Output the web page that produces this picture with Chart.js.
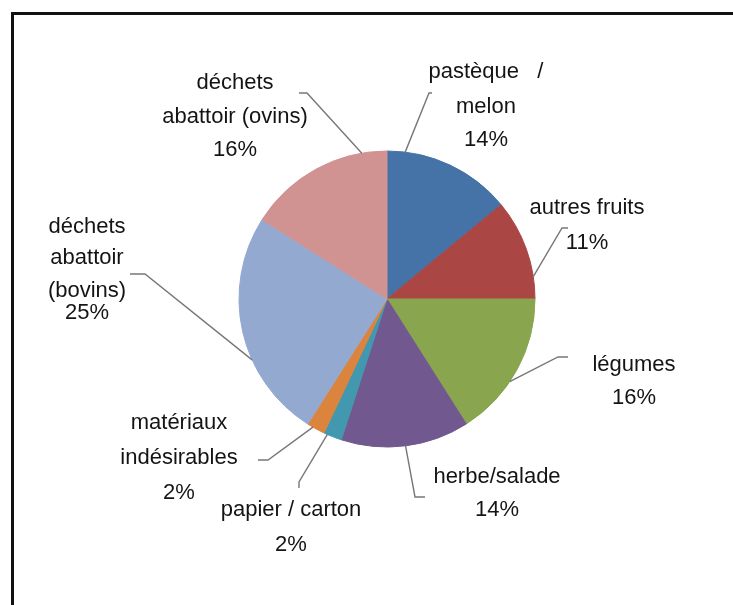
<!DOCTYPE html>
<html lang="fr">
<head>
  <meta charset="UTF-8">
  <title>Composition des déchets</title>
  <script src="https://cdn.jsdelivr.net/npm/chart.js"></script>
  <style>
    html, body {
      margin: 0;
      padding: 0;
      width: 733px;
      height: 605px;
      overflow: hidden;
      background: #fff;
    }
    #frame {
      position: absolute;
      left: 11px;
      top: 12px;
      width: 800px;
      height: 700px;
      border-left: 3px solid #111;
      border-top: 3px solid #111;
    }
    #wrap {
      position: absolute;
      left: 0;
      top: 0;
      width: 733px;
      height: 605px;
    }
  </style>
</head>
<body>
  <div id="frame"></div>
  <div id="wrap"><canvas id="pie"></canvas></div>

<script>
// data (percent of total)
const categories = [
  'pastèque / melon',
  'autres fruits',
  'légumes',
  'herbe/salade',
  'papier / carton',
  'matériaux indésirables',
  'déchets abattoir (bovins)',
  'déchets abattoir (ovins)'
];
const shares = [14, 11, 16, 14, 2, 2, 25, 16];

// how each category name is wrapped in its label
const labelLines = [
  ['pastèque   /', 'melon'],
  ['autres fruits'],
  ['légumes'],
  ['herbe/salade'],
  ['papier / carton'],
  ['matériaux', 'indésirables'],
  ['déchets', 'abattoir', '(bovins)'],
  ['déchets', 'abattoir (ovins)']
];

const colors = ['#4572A7', '#AA4643', '#89A54E', '#71588F', '#4198AF', '#DB843D', '#93A9D0', '#D19392'];

// label placement, relative to the pie centre
// frac = where along the slice edge the leader line starts
const labelLayout = [
  { frac: 0.14, knee: [42, -206],  end: [45, -206],  x: 99,   ys: [-227, -192, -159] },
  { frac: 0.78, knee: [175, -71],  end: [181, -71],  x: 200,  ys: [-91, -56] },
  { frac: 0.59, knee: [171, 58],   end: [181, 58],   x: 247,  ys: [66, 99] },
  { frac: 0.50, knee: [28, 198],   end: [38, 198],   x: 110,  ys: [178, 211] },
  { frac: 0.80, knee: [-88, 183],  end: [-88, 189],  x: -96,  ys: [211, 246] },
  { frac: 0.67, knee: [-119, 161], end: [-129, 161], x: -208, ys: [124, 159, 194] },
  { frac: 0.37, knee: [-242, -25], end: [-257, -25], x: -300, ys: [-72, -41, -8, 14] },
  { frac: 0.83, knee: [-80, -206], end: [-88, -206], x: -152, ys: [-216, -182, -149] }
];

const leaderLabels = {
  id: 'leaderLabels',
  afterDatasetsDraw(chart) {
    const ctx = chart.ctx;
    const arcs = chart.getDatasetMeta(0).data;
    ctx.save();
    arcs.forEach((arc, i) => {
      const { x, y, startAngle, endAngle, outerRadius } = arc.getProps(['x', 'y', 'startAngle', 'endAngle', 'outerRadius'], true);
      const lay = labelLayout[i];
      const a = startAngle + lay.frac * (endAngle - startAngle);
      const px = x + Math.cos(a) * outerRadius;
      const py = y + Math.sin(a) * outerRadius;

      // leader line
      ctx.strokeStyle = '#777';
      ctx.lineWidth = 1.4;
      ctx.beginPath();
      ctx.moveTo(px, py);
      ctx.lineTo(x + lay.knee[0], y + lay.knee[1]);
      ctx.lineTo(x + lay.end[0], y + lay.end[1]);
      ctx.stroke();

      // text
      const lines = labelLines[i].concat([shares[i] + '%']);
      ctx.fillStyle = '#141414';
      ctx.font = '22px "Liberation Sans", Arial, sans-serif';
      ctx.textAlign = 'center';
      ctx.textBaseline = 'middle';
      lines.forEach((txt, k) => {
        ctx.fillText(txt, x + lay.x, y + lay.ys[k]);
      });
    });
    ctx.restore();
  }
};

new Chart(document.getElementById('pie'), {
  type: 'pie',
  data: {
    labels: categories,
    datasets: [{
      data: shares,
      backgroundColor: colors,
      borderColor: colors,
      borderWidth: 1
    }]
  },
  options: {
    responsive: true,
    maintainAspectRatio: false,
    animation: false,
    radius: 148,
    layout: {
      padding: { left: 239, right: 198, top: 151, bottom: 158 }
    },
    plugins: {
      legend: { display: false },
      tooltip: { enabled: false }
    }
  },
  plugins: [leaderLabels]
});
</script>
</body>
</html>
